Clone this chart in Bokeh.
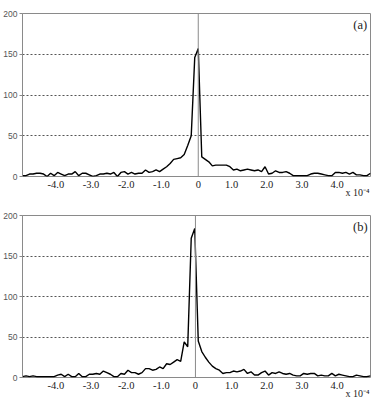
from bokeh.plotting import figure
from bokeh.layouts import column
from bokeh.models import Range1d, FixedTicker, Span, Label, LinearAxis
from bokeh.embed import file_html
from bokeh.resources import INLINE

# x positions (units of 1e-4)
x = [round(-4.95 + 0.1 * k, 2) for k in range(100)]

series_a = [1, 1, 3, 3, 4, 4, 3, 0, 4, 1,
            5, 3, 1, 3, 3, 6, 1, 4, 4, 2,
            0, 1, 3, 3, 4, 3, 5, 0, 5, 6,
            3, 5, 3, 4, 4, 8, 5, 6, 8, 6,
            9, 12, 16, 21, 22, 23, 27, 38, 50, 146,
            157, 24, 21, 18, 13, 14, 14, 14, 14, 12,
            8, 9, 7, 8, 9, 8, 7, 8, 6, 12,
            3, 4, 7, 5, 5, 6, 4, 1, 1, 1,
            1, 1, 3, 4, 4, 3, 2, 1, 1, 5,
            5, 4, 5, 3, 5, 2, 2, 1, 1, 4]

series_b = [1, 2, 1, 2, 1, 1, 1, 1, 1, 1,
            3, 4, 1, 4, 1, 1, 5, 1, 1, 4,
            4, 5, 4, 8, 6, 4, 1, 1, 5, 4,
            9, 6, 6, 4, 6, 11, 11, 9, 10, 13,
            11, 17, 16, 19, 22, 20, 44, 38, 172, 184,
            45, 32, 25, 19, 14, 11, 9, 5, 6, 6,
            8, 7, 8, 10, 5, 7, 3, 3, 6, 8,
            3, 6, 5, 7, 5, 4, 5, 3, 2, 2,
            5, 4, 5, 5, 2, 3, 2, 2, 5, 2,
            4, 3, 2, 1, 1, 3, 2, 1, 1, 2]

y_ticks = [0, 50, 100, 150, 200]
x_tick_values = [-4, -3, -2, -1, 1, 2, 3, 4]
x_tick_labels = ["-4.0", "-3.0", "-2.0", "-1.0", "1.0", "2.0", "3.0", "4.0"]
panel_labels = ["(a)", "(b)"]
zero_lines = [0.05, -0.03]
x_unit_label = "x 10\u207b\u2074"
x_unit_pos = 4.58


def make_panel(yvals, tag, zero_x, height, top):
    p = figure(width=376, height=height, output_backend="svg", toolbar_location=None,
               x_range=Range1d(-4.95, 4.95), y_range=Range1d(0, 200),
               min_border_left=20, min_border_right=6, min_border_top=top,
               min_border_bottom=24, background_fill_color="white",
               border_fill_color="white")
    p.outline_line_color = "#8a8a8a"
    p.outline_line_width = 1

    # y axis
    p.yaxis.ticker = FixedTicker(ticks=y_ticks)
    p.yaxis.axis_line_color = "#8a8a8a"
    p.yaxis.major_tick_line_color = "#8a8a8a"
    p.yaxis.major_tick_out = 3
    p.yaxis.major_tick_in = 0
    p.yaxis.minor_tick_line_color = None
    p.yaxis.minor_tick_out = 0
    p.yaxis.major_label_text_font = "Liberation Sans"
    p.yaxis.major_label_text_font_size = "8.5px"
    p.yaxis.major_label_text_color = "#555555"
    p.yaxis.major_label_standoff = 2

    # x axis
    ticks = x_tick_values[:4] + [zero_x] + x_tick_values[4:]
    labels = x_tick_labels[:4] + ["0"] + x_tick_labels[4:]
    xa = p.xaxis[0]
    xa.ticker = FixedTicker(ticks=ticks)
    xa.major_label_overrides = {t: l for t, l in zip(ticks, labels)}
    xa.axis_line_color = None
    xa.major_tick_line_color = None
    xa.minor_tick_line_color = None
    xa.major_tick_out = 0
    xa.minor_tick_out = 0
    xa.major_label_text_font = "Liberation Serif"
    xa.major_label_text_font_size = "10.5px"
    xa.major_label_text_color = "#222222"
    xa.major_label_standoff = 4

    # unit label as a second (label-only) axis below
    ua = LinearAxis(ticker=FixedTicker(ticks=[x_unit_pos]),
                    major_label_overrides={x_unit_pos: x_unit_label},
                    axis_line_color=None, major_tick_line_color=None,
                    minor_tick_line_color=None, major_tick_out=0, minor_tick_out=0,
                    major_label_standoff=-4,
                    major_label_text_font="Liberation Serif",
                    major_label_text_font_size="10px",
                    major_label_text_color="#222222")
    p.add_layout(ua, "below")

    # grid
    p.xgrid.grid_line_color = None
    p.ygrid.ticker = FixedTicker(ticks=[50, 100, 150])
    p.ygrid.grid_line_color = "#555555"
    p.ygrid.grid_line_dash = "2 2"
    p.ygrid.grid_line_width = 1

    p.add_layout(Span(location=zero_x, dimension="height", line_color="#8a8a8a",
                      line_width=1))

    p.line(x, yvals, line_color="black", line_width=1.4)

    p.add_layout(Label(x=4.66, y=186, text=tag, text_font="Liberation Serif",
                       text_font_size="12.5px", text_align="center",
                       text_baseline="middle", text_color="#222222"))
    return p


p1 = make_panel(series_a, panel_labels[0], zero_lines[0], 200, 13)
p2 = make_panel(series_b, panel_labels[1], zero_lines[1], 201, 15)
p = column(p1, p2, spacing=0)

open("out.html", "w").write(file_html(p, INLINE))
